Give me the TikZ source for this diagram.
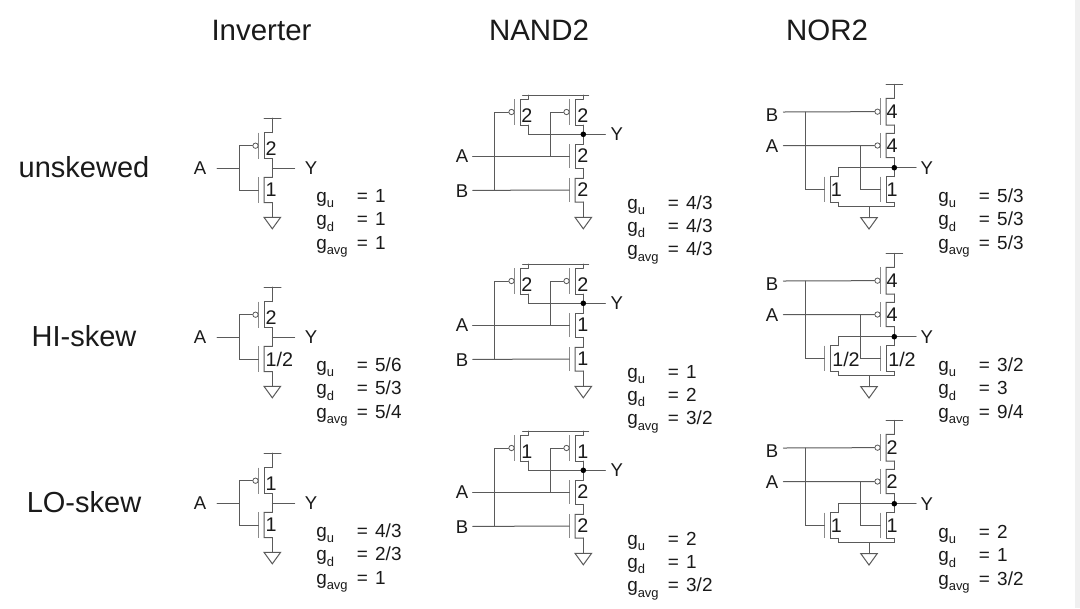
\documentclass[tikz,border=0pt]{standalone}
\usepackage{fontspec}
\setmainfont{Liberation Sans}
\newcommand\szHead{\fontsize{21.75pt}{24pt}\selectfont}
\newcommand\szTitle{\fontsize{22.1pt}{24pt}\selectfont}
\newcommand\szPin{\fontsize{13.9pt}{15pt}\selectfont}
\newcommand\szSize{\fontsize{14.8pt}{16pt}\selectfont}
\newcommand\szVal{\fontsize{14.2pt}{16pt}\selectfont}
\newcommand\szSub{\fontsize{9.7pt}{10pt}\selectfont}
\tikzset{
  x=0.75pt,y=-0.75pt,
  wire/.style={draw=wirecol,line width=0.75pt,line cap=round,line join=miter},
  bar/.style={draw=barcol,line width=0.9pt},
  bubble/.style={circle,draw=wirecol,fill=white,line width=0.6pt,minimum size=4pt,inner sep=0pt},
  junction/.style={circle,fill=black,minimum size=4.2pt,inner sep=0pt},
  txt/.style={inner sep=0pt,text=txtcol},
  head/.style={txt,font=\szHead,anchor=base},
  title/.style={txt,font=\szTitle,anchor=base},
  pin/.style={txt,font=\szPin,anchor=base},
  sizelab/.style={txt,font=\szSize,anchor=west},
  val/.style={txt,font=\szVal,anchor=base west},
}
\definecolor{wirecol}{HTML}{5A5A5A}
\definecolor{barcol}{HTML}{8A8A8A}
\definecolor{txtcol}{HTML}{1A1A1A}
% transistor: #1 name, #2 x of source/drain, #3 top, #4 bottom
\newcommand\FET[4]{%
  \coordinate (#1-t) at (#2,#3);
  \coordinate (#1-b) at (#2,#4);
  \coordinate (#1-g) at ({#2-14},{(#3+#4)/2});
  \draw[wire] (#1-t) -- ++(-8.3,0) -- ++(0,{#4-(#3)}) -- (#1-b);
  \draw[bar] ({#2-14},#3) -- ({#2-14},#4);
}
\newcommand\PFET[4]{%
  \FET{#1}{#2}{#3}{#4}
  \node[bubble] (#1-o) at ({#2-16.8},{(#3+#4)/2}) {};
}
\newcommand\PIN[4]{\node[pin,anchor=center] (#1) at (#2,#3) {\vphantom{A}#4};}
\newcommand\GND[3]{%
  \coordinate (#1) at (#2,#3);
  \draw[wire,line join=miter] ({#2-8.3},#3) -- ({#2+8.3},#3) -- (#2,{#3+11.5}) -- cycle;
}
\newcommand\GG[6]{% name x y values
  \node[val] (#1-a) at (#2,#3) {g\raisebox{-4pt}{\szSub u}};
  \node[val] (#1-b) at (#2,{#3+23.4}) {g\raisebox{-4pt}{\szSub d}};
  \node[val] (#1-c) at (#2,{#3+46.8}) {g\raisebox{-4pt}{\szSub avg}};
  \node[val] (#1-d) at ({#2+40.5},#3) {=\hspace{1.6pt} #4};
  \node[val] (#1-e) at ({#2+40.5},{#3+23.4}) {=\hspace{1.6pt} #5};
  \node[val] (#1-f) at ({#2+40.5},{#3+46.8}) {=\hspace{1.6pt} #6};
}
% inverter cell: #1 id, #2 y offset, #3 p size, #4 n size, #5 #6 #7 values
\newcommand\INV[7]{%
 \begin{scope}[shift={(0,#2)}]
  \PFET{#1p}{272.3}{132.7}{158.7}
  \FET{#1n}{272.3}{177.3}{202.7}
  \coordinate (#1v) at (272.3,118);
  \draw[wire] (264,118) -- (281,118);
  \GND{#1g}{272.3}{217.3}
  \coordinate (#1x) at (272.3,168);
  \coordinate (#1i) at (239.3,168);
  \PIN{#1A}{200}{168}{A}
  \PIN{#1Y}{311}{168}{Y}
  \draw[wire] (#1v) -- (#1p-t);
  \draw[wire] (#1p-b) -- (#1n-t);
  \draw[wire] (#1n-b) -- (#1g);
  \draw[wire] (#1x) -- (294.7,168);
  \draw[wire] (217,168) -- (#1i);
  \draw[wire] (#1p-o.west) -| (#1i) |- (#1n-g);
  \node[sizelab] (#1ps) at (265.3,148.5) {#3};
  \node[sizelab] (#1ns) at (265.3,190) {#4};
  \GG{#1l}{316}{202.5}{#5}{#6}{#7}
 \end{scope}
}
% nand cell: #1 id, #2 y offset, #3 p size, #4 n size
\newcommand\NAND[4]{%
 \begin{scope}[shift={(0,#2)}]
  \PFET{#1a}{528.3}{99}{125}
  \PFET{#1b}{583.3}{99}{125}
  \FET{#1c}{583.3}{144.3}{168.3}
  \FET{#1d}{583.3}{178.3}{202}
  \draw[wire] (522.7,95) -- (588.7,95);
  \GND{#1g}{583.3}{217.3}
  \coordinate (#1x) at (583.3,134.3);
  \coordinate (#1y) at (528.3,134.3);
  \coordinate (#1j) at (550,156.3);
  \coordinate (#1k) at (494.3,190.3);
  \PIN{#1A}{462}{156}{A}
  \PIN{#1B}{462}{191}{B}
  \PIN{#1Y}{616.7}{134}{Y}
  \draw[wire] (#1a-t) -- (528.3,95);
  \draw[wire] (#1b-t) -- (583.3,95);
  \draw[wire] (#1a-b) -- (#1y) -- (#1x) -- (605.3,134.3);
  \draw[wire] (#1b-b) -- (#1c-t);
  \draw[wire] (#1c-b) -- (#1d-t);
  \draw[wire] (#1d-b) -- (#1g);
  \draw[wire] (472.7,156.3) -- (#1c-g);
  \draw[wire] (472.7,190.3) -- (#1d-g);
  \draw[wire] (#1a-o.west) -| (#1k);
  \draw[wire] (#1b-o.west) -| (#1j);
  \node[junction] (#1dot) at (#1x) {};
  \node[sizelab] (#1s1) at (521.2,116) {#3};
  \node[sizelab] (#1s2) at (577,116) {#3};
  \node[sizelab] (#1s3) at (577,156) {#4};
  \node[sizelab] (#1s4) at (577,190) {#4};
 \end{scope}
}
% nor cell: #1 id, #2 y offset, #3 p size, #4 #5 x of n sizes, #6 n size
\newcommand\NOR[6]{%
 \begin{scope}[shift={(0,#2)}]
  \PFET{#1a}{894.3}{98.3}{125}
  \PFET{#1b}{894.3}{133.3}{157.7}
  \FET{#1c}{838.3}{176.7}{202.3}
  \FET{#1d}{894.3}{176.7}{202.3}
  \draw[wire] (886,84.3) -- (902.7,84.3);
  \GND{#1g}{869}{217.5}
  \coordinate (#1x) at (894.3,167.7);
  \coordinate (#1y) at (838.3,167.7);
  \coordinate (#1w) at (838.3,206.7);
  \coordinate (#1z) at (894.3,206.7);
  \coordinate (#1m) at (869,206.7);
  \PIN{#1B}{772}{114.7}{B}
  \PIN{#1A}{772}{146}{A}
  \PIN{#1Y}{926.7}{168}{Y}
  \draw[wire] (#1a-t) -- (894.3,84.3);
  \draw[wire] (#1a-b) -- (#1b-t);
  \draw[wire] (#1b-b) -- (#1d-t);
  \draw[wire] (#1c-t) -- (#1y) -- (#1x) -- (916,167.7);
  \draw[wire] (#1c-b) -- (#1w) -- (#1z) -- (#1d-b);
  \draw[wire] (#1m) -- (#1g);
  \draw[wire] (783.3,112) -- (#1a-o.west);
  \draw[wire] (783.3,145.7) -- (#1b-o.west);
  \draw[wire] (805.7,112) |- (#1c-g);
  \draw[wire] (860,145.7) |- (#1d-g);
  \node[junction] (#1dot) at (#1x) {};
  \node[sizelab] (#1s1) at (886.4,112) {#3};
  \node[sizelab] (#1s2) at (886.4,145.7) {#3};
  \node[sizelab] (#1s3) at (#4,190) {#6};
  \node[sizelab] (#1s4) at (#5,190) {#6};
 \end{scope}
}
\begin{document}
\begin{tikzpicture}
\useasboundingbox (0,0) rectangle (1080,608);
\fill[white] (0,0) rectangle (1080,608);
\fill[black!6] (1075,0) rectangle (1080,608);
% titles
\node[title] (tInv) at (261.5,40.5) {Inverter};
\node[title] (tNand) at (539,40.5) {NAND2};
\node[title] (tNor) at (827,40.5) {NOR2};
\node[head] (rowA) at (84,177) {unskewed};
\node[head] (rowB) at (84,346) {HI-skew};
\node[head] (rowC) at (84,512) {LO-skew};
% inverters
\INV{ia}{0}{2}{1}{1}{1}{1}
\INV{ib}{169}{2}{1/2}{5/6}{5/3}{5/4}
\INV{ic}{335}{1}{1}{4/3}{2/3}{1}
% nands
\NAND{na}{0}{2}{2}
\GG{nal}{627}{209}{4/3}{4/3}{4/3}
\NAND{nb}{169}{2}{1}
\GG{nbl}{627}{378}{1}{2}{3/2}
\NAND{nc}{336}{1}{2}
\GG{ncl}{627}{545}{2}{1}{3/2}
% nors
\NOR{ra}{0}{4}{830.5}{886.4}{1}
\GG{ral}{938}{202.5}{5/3}{5/3}{5/3}
\NOR{rb}{169}{4}{832}{888}{1/2}
\GG{rbl}{938}{371.5}{3/2}{3}{9/4}
\NOR{rc}{336}{2}{830.5}{886.4}{1}
\GG{rcl}{938}{538.5}{2}{1}{3/2}
\end{tikzpicture}
\end{document}
